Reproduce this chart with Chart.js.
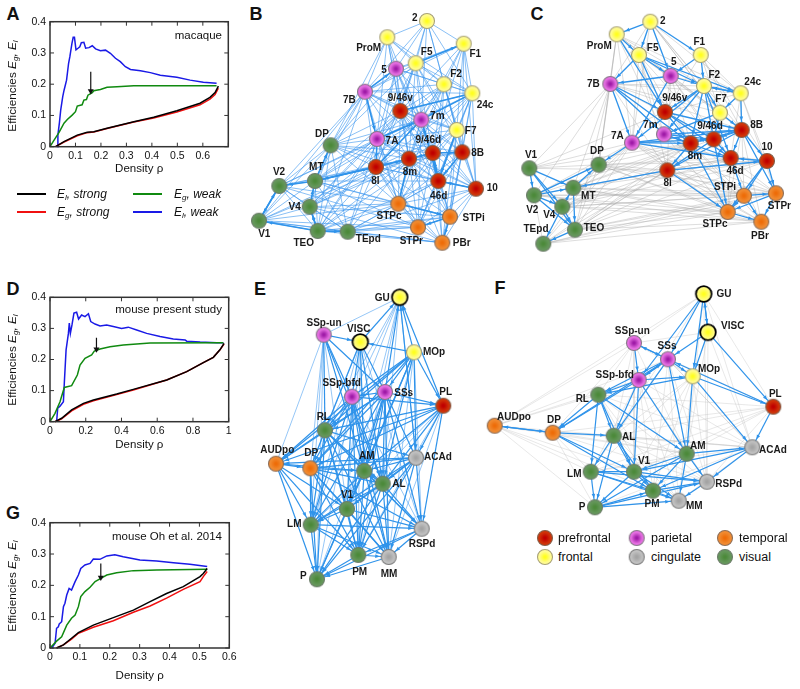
<!DOCTYPE html>
<html>
<head>
<meta charset="utf-8">
<title>Efficiencies and networks</title>
<script src="https://cdn.jsdelivr.net/npm/chart.js@4"></script>
<style>
  html, body { margin: 0; padding: 0; background: #fff; }
  body { width: 800px; height: 689px; position: relative; overflow: hidden; font-family: "Liberation Sans", Arial, sans-serif; color: #111; }
  canvas { position: absolute; }
  .letter { position: absolute; font-size: 18px; font-weight: bold; transform: translate(-50%, -50%); }
  .ylabel { position: absolute; left: 12px; font-size: 11.8px; white-space: nowrap; transform: translate(-50%, -50%) rotate(-90deg); }
  .ylabel sub, .key sub { font-size: 8px; vertical-align: -2px; line-height: 0; }
  .note { position: absolute; font-size: 11.5px; white-space: nowrap; text-align: right; transform: translateY(-50%); }
  .key { position: absolute; font-size: 12px; font-style: italic; white-space: nowrap; transform: translateY(-50%); }
  .swatch { position: absolute; width: 29px; height: 2px; }
  .area { position: absolute; font-size: 12.5px; white-space: nowrap; transform: translateY(-50%); }
</style>
</head>
<body>
<div class="letter" style="left:13px;top:14px">A</div>
<div class="letter" style="left:256px;top:14px">B</div>
<div class="letter" style="left:537px;top:14px">C</div>
<div class="letter" style="left:13px;top:289px">D</div>
<div class="letter" style="left:260px;top:289px">E</div>
<div class="letter" style="left:500px;top:288px">F</div>
<div class="letter" style="left:13px;top:513px">G</div>

<canvas id="chartA" width="240" height="176" style="left:0;top:0"></canvas>
<canvas id="chartD" width="240" height="182" style="left:0;top:270px"></canvas>
<canvas id="chartG" width="240" height="203" style="left:0;top:480px"></canvas>
<canvas id="netB" width="260" height="260" style="left:245px;top:0"></canvas>
<canvas id="netC" width="290" height="260" style="left:510px;top:0"></canvas>
<canvas id="netE" width="225" height="320" style="left:245px;top:280px"></canvas>
<canvas id="netF" width="330" height="250" style="left:470px;top:280px"></canvas>

<div class="ylabel" style="top:86px">Efficiencies <i>E<sub>g</sub>, E<sub>l</sub></i></div>
<div class="ylabel" style="top:360px">Efficiencies <i>E<sub>g</sub>, E<sub>l</sub></i></div>
<div class="ylabel" style="top:586px">Efficiencies <i>E<sub>g</sub>, E<sub>l</sub></i></div>
<div class="note" style="right:578px;top:35px">macaque</div>
<div class="note" style="right:578px;top:309px">mouse present study</div>
<div class="note" style="right:578px;top:536px">mouse Oh et al. 2014</div>

<div class="swatch" style="left:17px;top:193px;background:#000"></div>
<div class="key" style="left:57px;top:194px"><i>E<sub>l</sub>, strong</i></div>
<div class="swatch" style="left:17px;top:211px;background:#f01010"></div>
<div class="key" style="left:57px;top:212px"><i>E<sub>g</sub>, strong</i></div>
<div class="swatch" style="left:133px;top:193px;background:#108a10"></div>
<div class="key" style="left:174px;top:194px"><i>E<sub>g</sub>, weak</i></div>
<div class="swatch" style="left:133px;top:211px;background:#1a1ae6"></div>
<div class="key" style="left:174px;top:212px"><i>E<sub>l</sub>, weak</i></div>

<div class="area" style="left:558px;top:538px">prefrontal</div>
<div class="area" style="left:651px;top:538px">parietal</div>
<div class="area" style="left:739px;top:538px">temporal</div>
<div class="area" style="left:558px;top:557px">frontal</div>
<div class="area" style="left:651px;top:557px">cingulate</div>
<div class="area" style="left:739px;top:557px">visual</div>
<canvas id="legendF" width="200" height="40" style="left:535px;top:528px"></canvas>

<script>
// panel A curves [density, efficiency]
const aElWeak = [[0.029,0],[0.031,0.037],[0.037,0.077],[0.042,0.117],[0.05,0.16],[0.055,0.18],[0.065,0.213],[0.073,0.267],[0.078,0.288],[0.086,0.33],[0.091,0.35],[0.096,0.35],[0.102,0.31],[0.11,0.315],[0.117,0.32],[0.123,0.333],[0.133,0.334],[0.14,0.315],[0.153,0.317],[0.166,0.323],[0.179,0.313],[0.198,0.307],[0.218,0.309],[0.237,0.299],[0.257,0.283],[0.276,0.272],[0.296,0.256],[0.316,0.247],[0.355,0.243],[0.394,0.237],[0.433,0.229],[0.498,0.222],[0.55,0.213],[0.602,0.206],[0.654,0.203]];
const aEgWeak = [[0,0],[0.016,0.021],[0.035,0.045],[0.055,0.075],[0.068,0.087],[0.087,0.101],[0.1,0.112],[0.107,0.13],[0.126,0.134],[0.133,0.149],[0.143,0.151],[0.149,0.165],[0.166,0.173],[0.172,0.179],[0.198,0.183],[0.224,0.19],[0.263,0.192],[0.329,0.195],[0.459,0.195],[0.654,0.195]];
const aElStrong = [[0.022,0],[0.055,0.016],[0.107,0.037],[0.146,0.046],[0.172,0.048],[0.224,0.059],[0.329,0.08],[0.407,0.094],[0.498,0.115],[0.589,0.139],[0.628,0.158],[0.648,0.173],[0.661,0.194]];
const aEgStrong = [[0.022,0],[0.055,0.015],[0.107,0.035],[0.146,0.045],[0.172,0.047],[0.224,0.058],[0.329,0.079],[0.407,0.092],[0.498,0.111],[0.589,0.134],[0.628,0.152],[0.648,0.167],[0.661,0.187]];
const aArrow = [[0.16,0.24],[0.16,0.178]];
const aXTicks = [0,0.1,0.2,0.3,0.4,0.5,0.6,0.7];
const aXLabels = ['0','0.1','0.2','0.3','0.4','0.5','0.6',''];

// panel D curves
const dElWeak = [[0.037,0],[0.043,0.043],[0.056,0.05],[0.075,0.064],[0.08,0.123],[0.09,0.231],[0.103,0.284],[0.108,0.317],[0.114,0.284],[0.123,0.311],[0.134,0.349],[0.149,0.352],[0.16,0.33],[0.177,0.343],[0.196,0.338],[0.215,0.347],[0.228,0.322],[0.252,0.314],[0.28,0.308],[0.317,0.311],[0.354,0.306],[0.401,0.3],[0.438,0.304],[0.485,0.295],[0.541,0.284],[0.616,0.274],[0.69,0.266],[0.756,0.263],[0.765,0.259],[0.84,0.256],[0.933,0.254],[0.97,0.254]];
const dEgWeak = [[0,0],[0.028,0.027],[0.056,0.064],[0.08,0.11],[0.121,0.116],[0.153,0.15],[0.168,0.182],[0.196,0.204],[0.233,0.215],[0.248,0.227],[0.28,0.234],[0.336,0.241],[0.41,0.247],[0.56,0.253],[0.97,0.254]];
const dElStrong = [[0.028,0],[0.065,0.011],[0.121,0.038],[0.187,0.059],[0.243,0.07],[0.373,0.089],[0.466,0.104],[0.653,0.134],[0.765,0.161],[0.858,0.19],[0.914,0.207],[0.951,0.231],[0.974,0.252]];
const dEgStrong = [[0.028,0],[0.065,0.009],[0.121,0.035],[0.187,0.056],[0.243,0.067],[0.373,0.087],[0.466,0.102],[0.653,0.134],[0.765,0.161],[0.858,0.19],[0.914,0.207],[0.951,0.231],[0.974,0.25]];
const dArrow = [[0.26,0.27],[0.26,0.233]];
const dXTicks = [0,0.2,0.4,0.6,0.8,1];
const dXLabels = ['0','0.2','0.4','0.6','0.8','1'];

// panel G curves
const gElWeak = [[0.006,0],[0.017,0.015],[0.022,0.063],[0.028,0.068],[0.031,0.077],[0.039,0.084],[0.045,0.132],[0.05,0.143],[0.056,0.169],[0.064,0.19],[0.072,0.185],[0.084,0.212],[0.095,0.233],[0.103,0.254],[0.117,0.265],[0.134,0.27],[0.145,0.284],[0.167,0.283],[0.19,0.294],[0.217,0.298],[0.245,0.291],[0.301,0.281],[0.357,0.278],[0.413,0.272],[0.468,0.267],[0.526,0.26]];
const gEgWeak = [[0,0],[0.022,0.022],[0.039,0.036],[0.056,0.073],[0.072,0.095],[0.084,0.105],[0.095,0.132],[0.103,0.164],[0.117,0.18],[0.134,0.194],[0.151,0.212],[0.173,0.224],[0.19,0.233],[0.223,0.24],[0.279,0.247],[0.357,0.249],[0.526,0.251]];
const gElStrong = [[0.022,0],[0.045,0.01],[0.072,0.031],[0.095,0.049],[0.145,0.073],[0.212,0.097],[0.279,0.121],[0.335,0.148],[0.39,0.174],[0.446,0.196],[0.502,0.228],[0.513,0.238],[0.526,0.254]];
const gEgStrong = [[0.022,0],[0.045,0.01],[0.072,0.028],[0.095,0.047],[0.145,0.066],[0.212,0.087],[0.279,0.114],[0.335,0.134],[0.39,0.159],[0.446,0.187],[0.502,0.212],[0.513,0.228],[0.526,0.244]];
const gArrow = [[0.17,0.27],[0.17,0.225]];
const gXTicks = [0,0.1,0.2,0.3,0.4,0.5,0.6];
const gXLabels = ['0','0.1','0.2','0.3','0.4','0.5','0.6'];

const yTicks = [0,0.1,0.2,0.3,0.4];
const yLabels = ['0','0.1','0.2','0.3','0.4'];

// panel B network
const bNames = ['2','ProM','F1','F5','5','F2','24c','7B','9/46v','7m','F7','7A','DP','9/46d','8B','8m','8l','46d','10','MT','V2','V4','STPc','STPi','V1','TEO','TEpd','STPr','PBr'];
const bX = [427,387.3,463.7,415.7,396,444,472.3,365,400.3,421.3,456.7,377,330.7,432.7,462.3,409,376,438.3,476,315,279.3,309.7,398.3,450,259,317.7,347.7,418,442.3];
const bY = [21,37.3,43.7,63.3,68.7,84.3,93.3,91.7,111,119.7,130,139,145.3,153,152.3,158.7,167,181,188.7,181,186,206.7,203.7,216.7,220.7,231,231.7,227.3,242.7];
const bGroups = ['f','f','f','f','p','f','f','p','r','p','f','p','v','r','r','r','r','r','r','v','v','v','t','t','v','v','v','t','t'];
const bLabelX = [414.7,368.7,475.3,426.7,384,456,485,349.3,400.3,437.3,470.7,392,322,428.3,477.7,410,375.3,438.7,492.3,316.3,279,294.7,389,473.7,264.3,303.7,368.3,411.3,461.7];
const bLabelY = [18,48,54,52,70,74,105,100.7,98.3,116,131.7,141.3,134,140,153.3,172,181.3,196,188.7,167.7,172.7,207.3,216.3,218.3,234.3,243.3,239,241.7,243.7];
const bEdgesThin = [
  '2: ProM F5 5 F1 F2 24c 7B 9/46v 7m F7',
  'ProM: F5 5 7B F2 24c 9/46v 7m DP 7A 8m',
  'F1: F5 5 F2 24c F7 7B 9/46v 7m 8B 10 9/46d',
  'F5: 5 7B F2 24c 9/46v 7m F7 7A 8l 9/46d 8B DP 8m',
  '5: 7B F2 24c 9/46v 7m 7A F7 8l 8m 46d DP 9/46d',
  'F2: 24c 7B 9/46v 7m F7 7A 9/46d 8B 8m 46d 10 STPc 8l',
  '24c: 7B 9/46v 7m F7 7A 9/46d 8B 8m 8l 46d 10 STPi STPr',
  '7B: 9/46v 7m 7A DP MT V2 8l 8m STPc 9/46d TEO V1 F7',
  '9/46v: 7m 7A F7 9/46d 8B 8m 8l 46d 10 DP MT STPc STPi TEO V4',
  '7m: F7 7A 9/46d 8B 8m 8l 46d 10 DP MT V2 V4 STPc STPi STPr',
  'F7: 7A 9/46d 8B 8m 8l 46d 10 STPi PBr STPr STPc',
  '7A: DP MT V2 V4 9/46d 8m 8l 46d STPc TEO TEpd STPr 8B 10',
  'DP: MT V2 V1 V4 8l 8m 9/46d TEO TEpd STPc 46d',
  '9/46d: 8B 8m 8l 46d 10 STPc STPi STPr PBr MT V4 TEO',
  '8B: 8m 46d 10 STPi STPr PBr STPc 8l',
  '8m: 8l 46d 10 STPc STPi STPr PBr MT V2 V4 TEO TEpd V1',
  '8l: 46d 10 MT V2 V4 V1 TEO TEpd STPc STPi STPr PBr',
  '46d: 10 STPc STPi STPr PBr MT TEO TEpd',
  '10: STPc STPi STPr PBr TEpd',
  'MT: V2 V4 V1 TEO TEpd STPc STPi STPr',
  'V2: V4 V1 TEO TEpd STPc STPr',
  'V4: V1 TEO TEpd STPc STPi PBr',
  'V1: TEO TEpd STPr PBr STPc',
  'TEO: TEpd STPc STPr PBr STPi',
  'TEpd: STPc STPr PBr STPi',
  'STPc: STPi STPr PBr',
  'STPi: STPr PBr',
  'STPr: PBr'
];
const bEdgesStrong = ['F5: F1','TEO: TEpd V1 V4','8l: 8m MT 7m','7B: 7A 5','V1: V2','MT: V2 8l DP','9/46d: 8m 46d 8B','STPc: STPi 8m','24c: 7m 9/46v','46d: 9/46d 7m','7A: 7m 8l','V4: TEO MT','F7: 46d','STPi: STPr PBr','8B: 46d','V2: V1','10: 46d'];

// panel C network
const cNames = ['2','ProM','F5','F1','5','7B','F2','24c','9/46v','F7','8B','7m','9/46d','7A','8m','46d','10','DP','V1','8l','MT','V2','V4','STPi','STPr','STPc','PBr','TEO','TEpd'];
const cX = [650.3,616.7,639,700.7,670.7,610.3,704,740.7,665,720,741.7,664,713.7,632,690.7,730.7,767,598.7,529.3,667.3,573.3,534,562.3,744,776,727.7,761.3,575,543.3];
const cY = [21.7,34.3,55,55,76,84,86,93.3,112,112.7,130,134.3,139.3,142.7,143.3,158,161,164.7,168.3,170.3,187.7,195.3,206.7,195.7,193.3,212,221.7,229.7,243.7];
const cGroups = ['f','f','f','f','p','p','f','f','r','f','r','p','r','p','r','r','r','v','v','r','v','v','v','t','t','t','t','v','v'];
const cLabelX = [662.7,599.3,652.7,699.3,673.7,593.3,714.3,752.7,674.7,721,756.7,650.3,710,617.3,695,735,767,597,531,667.7,588.3,532.3,549.3,725,779.3,715,760,594,536];
const cLabelY = [21,46,48.3,42.7,62.3,84.3,75,82.7,98.7,99.3,125.7,125.7,126.7,136,156.7,171.7,147.7,151.7,155.3,183.3,196.7,210.7,215,187.3,206.7,224.7,236,228,229.3];
const cEdgesFaint = [
  'V1: DP 7A 8l 7B 8m 9/46v',
  'DP: 7B 8l 8m STPc STPi TEO TEpd ProM 46d 10 STPr PBr',
  'MT: 7A 8m STPc STPr PBr STPi 7B 46d 10 9/46d',
  'V2: 7A 8l STPc STPi DP 7B 8m STPr PBr',
  'V4: 8l 7A STPc STPi PBr 8m STPr 46d 10',
  'TEO: 8l STPc STPi STPr PBr 7A 8m 7B 46d 10 9/46d',
  'TEpd: STPc STPr PBr 8l STPi 7A V2 8m',
  '7B: 9/46d F7 24c 8B 8l 7m F2 8m',
  'ProM: 7A 7m F7 24c 8m 7B 5 F2 DP',
  '2: 7B 7A F7 24c 8B F2 F7',
  'F5: 7A 7m 8l F7 8B 8m 9/46d',
  '5: 8l 8m 24c F7 46d 9/46d 9/46v',
  'F1: 24c F7 8B 9/46v 10',
  '24c: 10 46d STPi STPr 9/46v',
  '8l: STPi STPr PBr 46d 10',
  '8m: STPi PBr STPr',
  '7A: STPi STPc STPr 9/46d PBr 10',
  '7m: STPc STPi',
  '8B: STPc PBr',
  '46d: STPc PBr STPr'
];
const cEdgesStrong = [
  '2: ProM F5 F1 5','ProM: F5 9/46v','F5: 7B 5 F2 24c 9/46v','F1: F2 5','5: 7B F2 7A',
  '7B: 7A 9/46v 7m 8m','F2: 24c 7m 8m 9/46d 46d F7 7A 9/46v','24c: 8B F7 F2','F7: 8B 9/46d 7m',
  '9/46v: 8B 46d 8m 9/46d','7m: 8B 8m 9/46d 46d','7A: 8B 8m 46d DP 9/46d','8B: 9/46d 8m 46d 10 STPr 8l',
  '8m: 8l STPc','9/46d: 8l STPc 46d','8l: 10 MT STPc','10: 46d STPi STPr STPc','46d: STPi',
  'STPi: STPr STPc PBr','STPr: PBr STPc','STPc: PBr','V1: V2 MT V4 TEO','V2: MT DP V4 TEO','V4: MT TEO TEpd',
  'MT: DP TEO','TEO: TEpd'
];

// panel E network
const eNames = ['GU','SSp-un','VISC','MOp','SSp-bfd','SSs','PL','RL','ACAd','AUDpo','DP','AM','AL','V1','LM','RSPd','PM','MM','P'];
const eX = [399.7,323.7,360.3,414,352,385,443.3,325,416,276,310.3,364.3,382.7,347,310.7,421.7,358.3,388.7,317];
const eY = [297.3,334.7,342,352.3,396.7,392,405.7,430.3,457.7,463.7,468.3,471,483.7,509,524.7,528.7,555,557,579.3];
const eGroups = ['F','p','F','f','p','p','r','v','c','t','t','v','v','v','v','c','v','c','v'];
const eLabelX = [382.3,324,358.7,434,341.7,403.7,445.7,323.3,438,277.3,311.3,366.7,399,347,294.3,422,359.7,389,303.3];
const eLabelY = [298.7,323.7,329,352.3,383.7,393,392,417,457.7,450.3,453.7,456.7,484.7,495.3,524,544.3,572.3,574.3,576.7];
const eEdgesThin = ['GU: SSp-un SSp-bfd RL AL V1 AM LM ACAd','SSp-un: AUDpo LM DP V1 P','VISC: DP RSPd V1 LM PM','PL: LM V1 PM MM','MOp: MM RSPd PM','SSs: P','SSp-bfd: P RSPd','ACAd: RL'];
const eEdgesStrong = [
  'SSp-un: VISC SSs SSp-bfd RL AM AL','VISC: GU SSs SSp-bfd RL AL AM','MOp: GU VISC SSs SSp-bfd PL RL AUDpo DP AL AM ACAd V1',
  'SSs: GU SSp-bfd PL RL AUDpo DP AM AL LM V1 PM MM ACAd RSPd','SSp-bfd: PL RL AUDpo DP AM AL V1 PM MM LM',
  'PL: GU RL AUDpo DP AM AL ACAd RSPd','RL: DP AUDpo AM AL V1 LM P PM ACAd MM RSPd',
  'ACAd: GU AM AL V1 LM PM P DP AUDpo RSPd MM','AUDpo: DP AM LM P V1 PM','DP: AM AL V1 LM P PM MM RSPd',
  'AM: AL V1 LM PM MM P RSPd','AL: V1 LM P PM MM RSPd','V1: LM P PM MM RSPd','LM: P PM MM RSPd','RSPd: PM MM P','PM: MM P','MM: P'
];

// panel F network
const fNames = ['GU','VISC','SSp-un','SSs','MOp','SSp-bfd','RL','PL','AUDpo','DP','AL','ACAd','AM','V1','LM','RSPd','PM','MM','P'];
const fX = [703.7,708,634,668,692.7,638.7,598.3,773.3,494.7,552.7,613.7,752.3,686.7,634,590.7,707,653,678.7,595];
const fY = [294,332.3,343,359.3,376.3,380,394.7,406.7,425.7,432.7,435.7,447.3,453.7,471.7,471.7,481.7,490.7,500.7,507.3];
const fGroups = ['F','F','p','p','f','p','v','r','t','t','v','c','v','v','v','c','v','c','v'];
const fLabelX = [724,732.7,632.3,667,709,614.7,582.3,775.3,514,554,628.7,773,697.7,644,574.3,728.7,652,694.3,582];
const fLabelY = [294.7,326,331,346.7,369.3,375,399,394.3,417.7,420.3,437.3,450.7,446,461.3,474.3,484.3,504.3,506.7,507.3];
const fEdgesFaint = [
  'AUDpo: GU SSp-un SSs SSp-bfd RL AL LM P V1 AM PM','GU: SSp-un PL AM ACAd AL RSPd','SSp-un: VISC MOp RL AL V1 DP PL AM',
  'VISC: ACAd AM RSPd','MOp: V1 LM RSPd MM PM','PL: RL AL AM V1 RSPd DP LM','ACAd: AL LM DP RL SSs MM P','RL: RSPd MM PM',
  'AL: AM RSPd MM PM ACAd','DP: AM LM P RSPd','AM: LM','SSs: ACAd RSPd LM PM MM','MM: P','SSp-bfd: LM RSPd ACAd MM PM','MOp: AL'
];
const fEdgesStrong = [
  'GU: VISC MOp SSs SSp-bfd','VISC: SSs MOp PL GU','SSp-un: SSs SSp-bfd','SSs: SSp-un SSp-bfd MOp RL DP AM AL','SSp-bfd: MOp RL DP AL AM V1 SSs',
  'MOp: PL AM ACAd RL','PL: ACAd SSs','RL: LM AL V1 AM DP','AUDpo: DP','DP: AL V1 PM AUDpo','AL: LM V1 P PM','AM: V1 P PM MM RSPd ACAd',
  'ACAd: RSPd PM V1','V1: LM P PM MM RSPd','LM: P PM MM RSPd','P: PM RSPd MM','PM: MM RSPd','RSPd: MM'
];

// legend of panel F
const legendGroups = ['r','p','t','f','c','v'];
const legendX = [545,636.7,725,545,636.7,725];
const legendY = [538,538,538,557,557,557];

const FONT = '"Liberation Sans", Arial, sans-serif';
const groupColors = {
  r: ['#c00000', '#cf3208', '#85604a'],
  f: ['#ffff20', '#fffb90', '#a8a278'],
  F: ['#ffff20', '#fffb80', '#000000'],
  p: ['#a01ca8', '#e46ee0', '#8a7a8a'],
  t: ['#ee6c08', '#f08a30', '#8f6f58'],
  c: ['#a4a4a4', '#c0c0c0', '#7d7d7d'],
  v: ['#4c8a3a', '#64965a', '#6e7e6c']
};

function makeSprite(group) {
  const big = group === 'F';
  const r = big ? 7.8 : 7.5;
  const c = document.createElement('canvas');
  c.width = 20;
  c.height = 20;
  const ctx = c.getContext('2d');
  const colors = groupColors[group];
  const g = ctx.createRadialGradient(10, 10, 1, 10, 10, r);
  g.addColorStop(0, colors[0]);
  g.addColorStop(0.7, colors[1]);
  g.addColorStop(1, colors[1]);
  ctx.fillStyle = g;
  ctx.beginPath();
  ctx.arc(10, 10, r, 0, Math.PI * 2);
  ctx.fill();
  ctx.lineWidth = big ? 1.8 : 1.1;
  ctx.strokeStyle = colors[2];
  ctx.stroke();
  return c;
}
const sprites = {};
Object.keys(groupColors).forEach(g => { sprites[g] = makeSprite(g); });

// frame and inward ticks on all four sides
const framePlugin = {
  id: 'frame',
  afterDatasetsDraw(chart) {
    const { ctx, chartArea: a, scales } = chart;
    ctx.save();
    ctx.strokeStyle = '#333';
    ctx.lineWidth = 1;
    ctx.beginPath();
    scales.x.ticks.forEach(t => {
      const x = scales.x.getPixelForValue(t.value);
      ctx.moveTo(x, a.bottom); ctx.lineTo(x, a.bottom - 4);
      ctx.moveTo(x, a.top); ctx.lineTo(x, a.top + 4);
    });
    scales.y.ticks.forEach(t => {
      const y = scales.y.getPixelForValue(t.value);
      ctx.moveTo(a.left, y); ctx.lineTo(a.left + 4, y);
      ctx.moveTo(a.right, y); ctx.lineTo(a.right - 4, y);
    });
    ctx.stroke();
    ctx.lineWidth = 1.5;
    ctx.strokeRect(a.left, a.top, a.right - a.left, a.bottom - a.top);
    ctx.restore();
  }
};

function curveDataset(points, color) {
  return {
    data: points.map(p => ({ x: p[0], y: p[1] })),
    borderColor: color,
    borderWidth: 1.5,
    pointRadius: 0,
    showLine: true,
    clip: false
  };
}

function efficiencyChart(id, cfg) {
  new Chart(document.getElementById(id), {
    type: 'scatter',
    data: {
      datasets: [
        {
          data: cfg.arrow.map(p => ({ x: p[0], y: p[1] })),
          borderColor: '#111',
          backgroundColor: '#111',
          borderWidth: 1.2,
          showLine: true,
          pointStyle: 'triangle',
          pointRotation: 180,
          pointRadius: [0, 3.5],
          pointBorderWidth: 0
        },
        curveDataset(cfg.elStrong, '#000'),
        curveDataset(cfg.egStrong, '#f01010'),
        curveDataset(cfg.egWeak, '#108a10'),
        curveDataset(cfg.elWeak, '#1a1ae6')
      ]
    },
    plugins: [framePlugin],
    options: {
      responsive: false,
      animation: false,
      layout: { autoPadding: false, padding: { top: cfg.top, right: cfg.right, left: 0, bottom: 0 } },
      plugins: { legend: { display: false }, tooltip: { enabled: false } },
      scales: {
        x: {
          type: 'linear',
          min: 0,
          max: cfg.xMax,
          afterBuildTicks: s => { s.ticks = cfg.xTicks.map(v => ({ value: v })); },
          afterFit: s => { s.height = cfg.xHeight; },
          grid: { display: false, drawTicks: false },
          border: { display: false },
          ticks: {
            autoSkip: false,
            maxRotation: 0,
            padding: 3,
            color: '#111',
            font: { family: FONT, size: 10.5 },
            callback: v => cfg.xLabels[cfg.xTicks.indexOf(v)]
          },
          title: { display: true, text: 'Density ρ', color: '#111', padding: 0, font: { family: FONT, size: 11.5 } }
        },
        y: {
          type: 'linear',
          min: 0,
          max: 0.4,
          afterBuildTicks: s => { s.ticks = yTicks.map(v => ({ value: v })); },
          afterFit: s => { s.width = 50; },
          grid: { display: false, drawTicks: false },
          border: { display: false },
          ticks: {
            autoSkip: false,
            padding: 4,
            color: '#111',
            font: { family: FONT, size: 10.5 },
            callback: v => yLabels[yTicks.indexOf(v)]
          }
        }
      }
    }
  });
}

function parseEdges(lines) {
  const edges = [];
  lines.forEach(line => {
    const parts = line.split(':');
    parts[1].trim().split(' ').forEach(to => edges.push([parts[0], to]));
  });
  return edges;
}

// small arrowhead just before the target node, plus node labels
const networkPlugin = {
  id: 'network',
  afterDatasetsDraw(chart, args, opts) {
    const { ctx, scales } = chart;
    ctx.save();
    chart.data.datasets.forEach(ds => {
      if (!ds.arrow) return;
      const a = ds.data[0], b = ds.data[1];
      const x1 = scales.x.getPixelForValue(a.x), y1 = scales.y.getPixelForValue(a.y);
      const x2 = scales.x.getPixelForValue(b.x), y2 = scales.y.getPixelForValue(b.y);
      const len = Math.hypot(x2 - x1, y2 - y1);
      const ux = (x2 - x1) / len, uy = (y2 - y1) / len;
      const tx = x2 - ux * 9, ty = y2 - uy * 9;
      ctx.fillStyle = ds.borderColor;
      ctx.beginPath();
      ctx.moveTo(tx, ty);
      ctx.lineTo(tx - ux * 4.5 - uy * 1.8, ty - uy * 4.5 + ux * 1.8);
      ctx.lineTo(tx - ux * 4.5 + uy * 1.8, ty - uy * 4.5 - ux * 1.8);
      ctx.fill();
    });
    ctx.font = 'bold 10px ' + FONT;
    ctx.fillStyle = '#1a1a1a';
    ctx.textAlign = 'center';
    ctx.textBaseline = 'middle';
    opts.names.forEach((name, i) => {
      ctx.fillText(name, scales.x.getPixelForValue(opts.labelX[i]), scales.y.getPixelForValue(opts.labelY[i]));
    });
    ctx.restore();
  }
};

function networkChart(id, net) {
  const pos = {};
  net.names.forEach((n, i) => { pos[n] = { x: net.x[i], y: net.y[i] }; });
  const edgeSet = (list, style) => parseEdges(list).map(e => Object.assign({
    data: [pos[e[0]], pos[e[1]]],
    showLine: true,
    pointRadius: 0,
    clip: false
  }, style));
  const c = document.getElementById(id);
  new Chart(c, {
    type: 'scatter',
    data: {
      datasets: [
        {
          data: net.names.map(n => pos[n]),
          pointStyle: net.groups.map(g => sprites[g]),
          pointRadius: 8,
          showLine: false,
          clip: false
        },
        ...edgeSet(net.strong, { borderColor: '#2f93ea', borderWidth: net.strongWidth, arrow: true }),
        ...edgeSet(net.weak, { borderColor: net.weakColor, borderWidth: net.weakWidth })
      ]
    },
    plugins: [networkPlugin],
    options: {
      responsive: false,
      animation: false,
      layout: { autoPadding: false, padding: 0 },
      plugins: {
        legend: { display: false },
        tooltip: { enabled: false },
        network: { names: net.names, labelX: net.labelX, labelY: net.labelY }
      },
      scales: {
        x: { type: 'linear', display: false, min: net.left, max: net.left + c.width },
        y: { type: 'linear', display: false, reverse: true, min: net.top, max: net.top + c.height }
      }
    }
  });
}

efficiencyChart('chartA', { elWeak: aElWeak, egWeak: aEgWeak, elStrong: aElStrong, egStrong: aEgStrong, arrow: aArrow, xMax: 0.7, xTicks: aXTicks, xLabels: aXLabels, top: 21.7, right: 11.7, xHeight: 29.3 });
efficiencyChart('chartD', { elWeak: dElWeak, egWeak: dEgWeak, elStrong: dElStrong, egStrong: dEgStrong, arrow: dArrow, xMax: 1, xTicks: dXTicks, xLabels: dXLabels, top: 27.3, right: 11.3, xHeight: 30.3 });
efficiencyChart('chartG', { elWeak: gElWeak, egWeak: gEgWeak, elStrong: gElStrong, egStrong: gEgStrong, arrow: gArrow, xMax: 0.6, xTicks: gXTicks, xLabels: gXLabels, top: 42.7, right: 10.7, xHeight: 35 });

networkChart('netB', { names: bNames, x: bX, y: bY, groups: bGroups, labelX: bLabelX, labelY: bLabelY, strong: bEdgesStrong, weak: bEdgesThin, weakColor: 'rgba(60,150,238,0.6)', weakWidth: 1, strongWidth: 1.5, left: 245, top: 0 });
networkChart('netC', { names: cNames, x: cX, y: cY, groups: cGroups, labelX: cLabelX, labelY: cLabelY, strong: cEdgesStrong, weak: cEdgesFaint, weakColor: 'rgba(170,170,170,0.5)', weakWidth: 0.8, strongWidth: 1.3, left: 510, top: 0 });
networkChart('netE', { names: eNames, x: eX, y: eY, groups: eGroups, labelX: eLabelX, labelY: eLabelY, strong: eEdgesStrong, weak: eEdgesThin, weakColor: 'rgba(60,150,238,0.6)', weakWidth: 0.9, strongWidth: 1.2, left: 245, top: 280 });
networkChart('netF', { names: fNames, x: fX, y: fY, groups: fGroups, labelX: fLabelX, labelY: fLabelY, strong: fEdgesStrong, weak: fEdgesFaint, weakColor: 'rgba(190,190,190,0.45)', weakWidth: 0.8, strongWidth: 1.2, left: 470, top: 280 });

new Chart(document.getElementById('legendF'), {
  type: 'scatter',
  data: {
    datasets: [{
      data: legendGroups.map((g, i) => ({ x: legendX[i], y: legendY[i] })),
      pointStyle: legendGroups.map(g => sprites[g]),
      pointRadius: 8,
      clip: false
    }]
  },
  options: {
    responsive: false,
    animation: false,
    layout: { autoPadding: false, padding: 0 },
    plugins: { legend: { display: false }, tooltip: { enabled: false } },
    scales: {
      x: { type: 'linear', display: false, min: 535, max: 735 },
      y: { type: 'linear', display: false, reverse: true, min: 528, max: 568 }
    }
  }
});
</script>
</body>
</html>
